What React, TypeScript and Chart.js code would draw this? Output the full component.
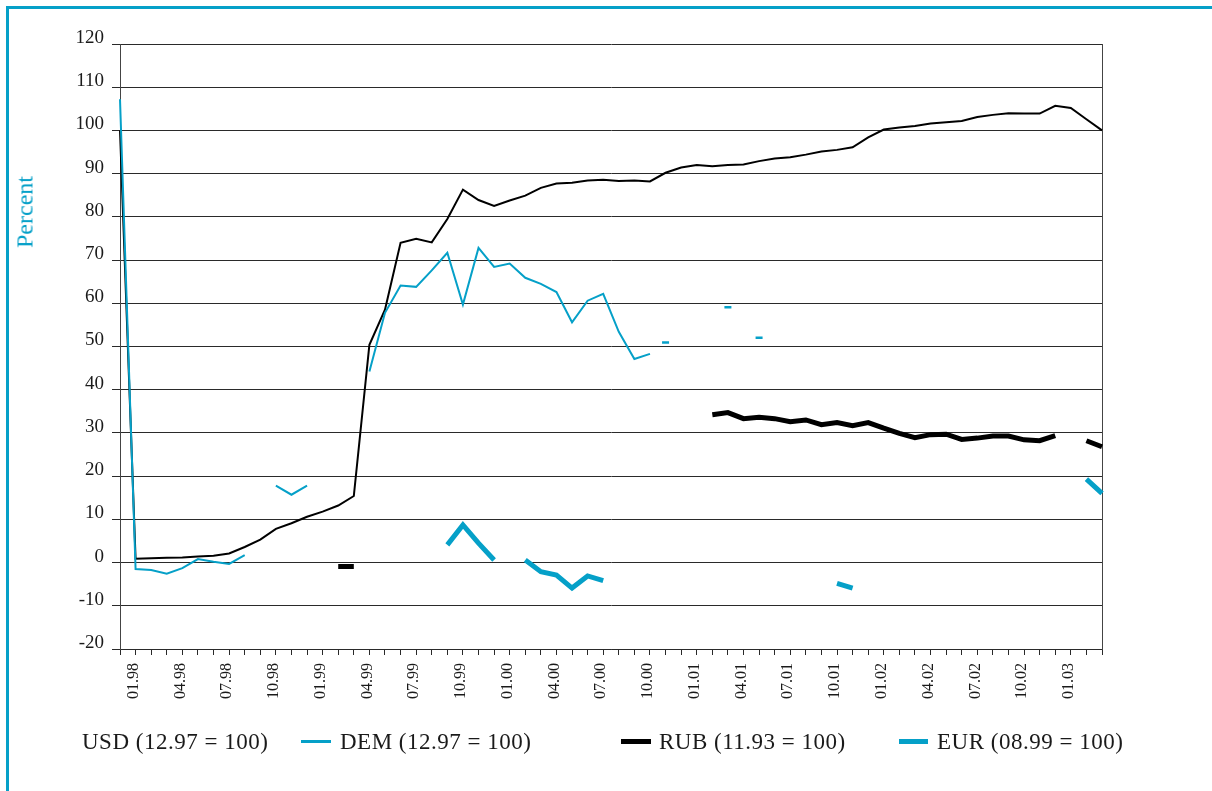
import React, { useEffect, useRef } from 'react';
import { Chart, registerables } from 'chart.js';

Chart.register(...registerables);

// Monthly categories, 12.97 .. 03.03
const months = [
  '12.97',
  '01.98', '02.98', '03.98', '04.98', '05.98', '06.98', '07.98', '08.98', '09.98', '10.98', '11.98', '12.98',
  '01.99', '02.99', '03.99', '04.99', '05.99', '06.99', '07.99', '08.99', '09.99', '10.99', '11.99', '12.99',
  '01.00', '02.00', '03.00', '04.00', '05.00', '06.00', '07.00', '08.00', '09.00', '10.00', '11.00', '12.00',
  '01.01', '02.01', '03.01', '04.01', '05.01', '06.01', '07.01', '08.01', '09.01', '10.01', '11.01', '12.01',
  '01.02', '02.02', '03.02', '04.02', '05.02', '06.02', '07.02', '08.02', '09.02', '10.02', '11.02', '12.02',
  '01.03', '02.03', '03.03',
];

// USD (12.97 = 100)
const usdValues = [
  100, 0.9, 1.0, 1.1, 1.2, 1.4, 1.6, 2.1, 3.6, 5.3,
  7.8, 9.1, 10.6, 11.8, 13.2, 15.4, 50.4, 58.5, 74.0, 74.9,
  74.1, 79.5, 86.3, 83.9, 82.5, 83.8, 84.9, 86.7, 87.7, 87.9,
  88.4, 88.6, 88.3, 88.4, 88.2, 90.2, 91.4, 92.0, 91.7, 92.0,
  92.1, 92.9, 93.5, 93.8, 94.4, 95.1, 95.5, 96.1, 98.4, 100.2,
  100.7, 101.0, 101.6, 101.9, 102.2, 103.1, 103.6, 104.0, 103.9, 103.9,
  105.7, 105.2, 102.6, 100.0,
];

// DEM (12.97 = 100), connected part
const demValues = [
  107.2, -1.5, -1.7, -2.6, -1.3, 0.8, 0.2, -0.3, 1.7, null,
  17.8, 15.7, 17.8, null, null, null, 44.2, 57.8, 64.1, 63.8,
  67.6, 71.7, 59.7, 72.8, 68.4, 69.2, 65.9, 64.5, 62.6, 55.6,
  60.6, 62.2, 53.4, 47.1, 48.3, null, null, null, null, null,
  null, null, null, null, null, null, null, null, null, null,
  null, null, null, null, null, null, null, null, null, null,
  null, null, null, null,
];

// DEM isolated monthly values (shown as short dashes)
const demIsolated = [
  null, null, null, null, null, null, null, null, null, null,
  null, null, null, null, null, null, null, null, null, null,
  null, null, null, null, null, null, null, null, null, null,
  null, null, null, null, null, 50.9, null, null, null, 59.1,
  null, 52.0, null, null, null, null, null, null, null, null,
  null, null, null, null, null, null, null, null, null, null,
  null, null, null, null,
];

// RUB (11.93 = 100)
const rubValues = [
  null, null, null, null, null, null, null, null, null, null,
  null, null, null, null, -0.9, -0.9, null, null, null, null,
  null, null, null, null, null, null, null, null, null, null,
  null, null, null, null, null, null, null, null, 34.2, 34.7,
  33.3, 33.6, 33.3, 32.6, 33.0, 31.9, 32.4, 31.7, 32.4, 31.1,
  29.9, 28.9, 29.6, 29.7, 28.5, 28.8, 29.3, 29.3, 28.4, 28.2,
  29.4, null, 28.2, 26.8,
];

// EUR (08.99 = 100)
const eurValues = [
  null, null, null, null, null, null, null, null, null, null,
  null, null, null, null, null, null, null, null, null, null,
  null, 4.1, 8.7, 4.5, 0.6, null, 0.6, -2.1, -2.9, -5.9,
  -3.1, -4.2, null, null, null, null, null, null, null, null,
  null, null, null, null, null, null, -4.8, -5.9, null, null,
  null, null, null, null, null, null, null, null, null, null,
  null, null, 19.3, 16.0,
];

const yMin = -20;
const yMax = 120;
const yStep = 10;

const legendItems = [
  { text: 'USD (12.97 = 100)', swatch: null },
  { text: 'DEM (12.97 = 100)', swatch: 'dem' },
  { text: 'RUB (11.93 = 100)', swatch: 'rub' },
  { text: 'EUR (08.99 = 100)', swatch: 'eur' },
];

const CYAN = '#05a0c8';
const INK = '#1a1a1a';
const GRID = '#2a2a2a';
const SERIF = "'Liberation Serif', 'Times New Roman', serif";

const swatchStyle: Record<string, any> = {
  dem: { left: 301, top: 740, width: 30, height: 3, background: CYAN },
  rub: { left: 621, top: 739, width: 30, height: 5, background: '#000' },
  eur: { left: 899, top: 739, width: 29, height: 5, background: CYAN },
};
const textLeft = [82, 340, 659, 937];

export default function App() {
  const canvasRef = useRef<HTMLCanvasElement | null>(null);

  useEffect(() => {
    const canvas = canvasRef.current;
    if (!canvas) return;
    const chart = new Chart(canvas, {
      type: 'line',
      data: {
        labels: months,
        datasets: [
          {
            label: 'DEM (12.97 = 100)',
            data: demValues,
            borderColor: CYAN,
            borderWidth: 2,
            pointRadius: 0,
            tension: 0,
          },
          {
            label: 'DEM isolated',
            data: demIsolated,
            showLine: false,
            borderColor: CYAN,
            pointStyle: 'line',
            pointRadius: 3.5,
            pointBorderWidth: 2.5,
            pointBorderColor: CYAN,
          },
          {
            label: 'EUR (08.99 = 100)',
            data: eurValues,
            borderColor: CYAN,
            borderWidth: 5,
            pointRadius: 0,
            tension: 0,
          },
          {
            label: 'RUB (11.93 = 100)',
            data: rubValues,
            borderColor: '#000',
            borderWidth: 5,
            pointRadius: 0,
            tension: 0,
          },
          {
            label: 'USD (12.97 = 100)',
            data: usdValues,
            borderColor: '#000',
            borderWidth: 2,
            pointRadius: 0,
            tension: 0,
          },
        ] as any,
      },
      options: {
        animation: false,
        responsive: false,
        devicePixelRatio: 1,
        layout: { padding: { left: 0, top: 44, right: 110, bottom: 82 } },
        plugins: { legend: { display: false }, tooltip: { enabled: false } },
        scales: {
          x: {
            type: 'category',
            offset: false,
            grid: {
              drawOnChartArea: false,
              drawTicks: true,
              tickLength: 6,
              color: GRID,
              offset: false,
            },
            border: { display: true, color: GRID },
            ticks: {
              autoSkip: false,
              minRotation: 90,
              maxRotation: 90,
              padding: 8,
              labelOffset: -2,
              color: INK,
              font: { family: SERIF, size: 16 },
              callback: (_v: any, index: number) => (index % 3 === 1 ? months[index] : ''),
            },
            afterFit: (s: any) => {
              s.height = 60;
            },
          },
          y: {
            min: yMin,
            max: yMax,
            grid: { color: GRID, lineWidth: 1, tickLength: 8 },
            border: { display: true, color: '#444' },
            ticks: {
              stepSize: yStep,
              padding: 8,
              labelOffset: -6,
              color: INK,
              font: { family: SERIF, size: 19 },
            },
            afterFit: (s: any) => {
              s.width = 120;
            },
          },
          y2: {
            position: 'right',
            display: true,
            ticks: { display: false },
            grid: { drawOnChartArea: false, drawTicks: false },
            border: { display: true, color: '#444' },
            afterFit: (s: any) => {
              s.width = 0;
            },
          },
        },
      } as any,
    });
    return () => chart.destroy();
  }, []);

  return (
    <div style={{ position: 'absolute', left: 0, top: 0, width: 1212, height: 791, background: '#fff', overflow: 'hidden' }}>
      <div
        style={{
          position: 'absolute',
          left: 6,
          top: 6,
          width: 1220,
          height: 800,
          borderTop: `3px solid ${CYAN}`,
          borderLeft: `3px solid ${CYAN}`,
        }}
      />
      <canvas ref={canvasRef} width={1212} height={791} style={{ position: 'absolute', left: 0, top: 0 }} />
      <div
        style={{
          position: 'absolute',
          left: 25,
          top: 212,
          transform: 'translate(-50%, -50%) rotate(-90deg)',
          whiteSpace: 'nowrap',
          font: `24px ${SERIF}`,
          color: CYAN,
        }}
      >
        Percent
      </div>
      {legendItems.map((item, i) => (
        <React.Fragment key={item.text}>
          {item.swatch && <div style={{ position: 'absolute', ...swatchStyle[item.swatch] }} />}
          <div
            style={{
              position: 'absolute',
              left: textLeft[i],
              top: 729,
              font: `23px ${SERIF}`,
              letterSpacing: '0.5px',
              lineHeight: '26px',
              color: INK,
              whiteSpace: 'pre',
            }}
          >
            {item.text}
          </div>
        </React.Fragment>
      ))}
    </div>
  );
}
